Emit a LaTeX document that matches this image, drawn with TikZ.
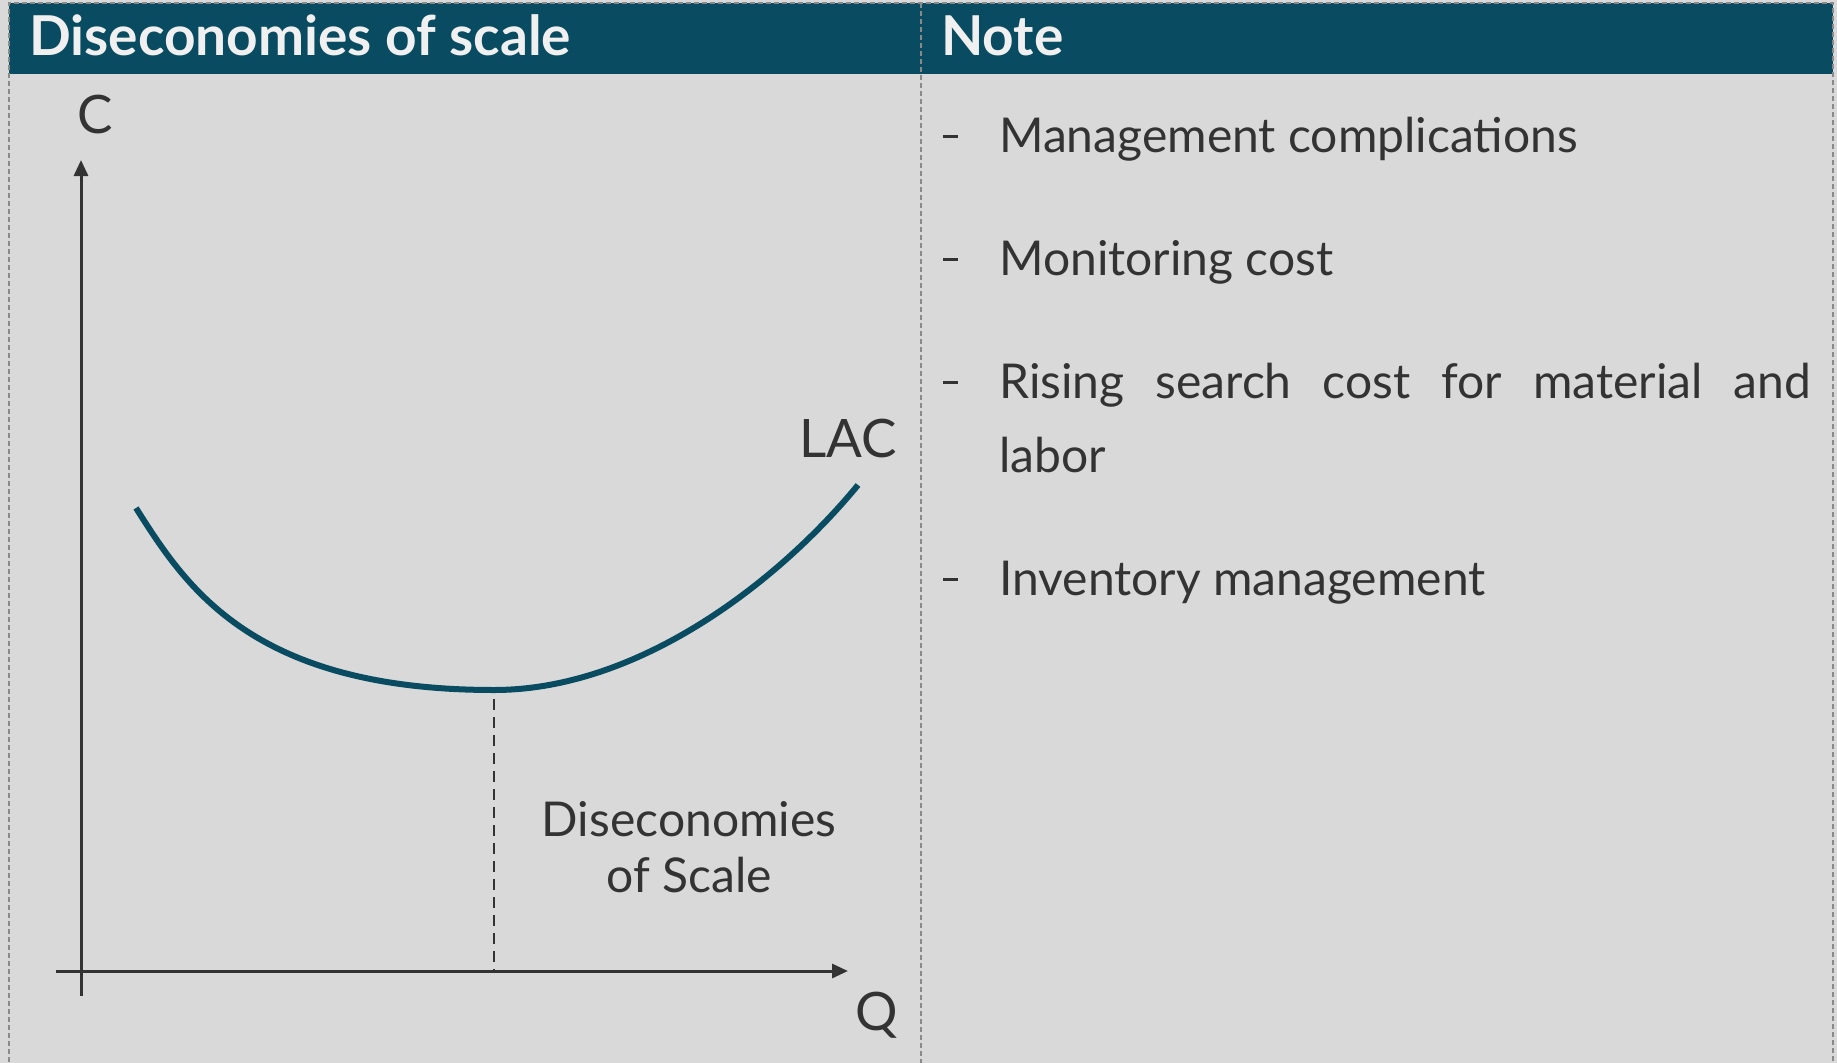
\documentclass[tikz,border=0pt]{standalone}
\usepackage{fontspec}
\setmainfont{Lato}
\usetikzlibrary{arrows.meta}
\definecolor{hdr}{HTML}{094C61}
\definecolor{bg}{HTML}{D9D9D9}
\definecolor{txt}{HTML}{333333}
\definecolor{hdrtxt}{HTML}{F0F0F0}
\definecolor{brd}{HTML}{8A8A8A}
\tikzset{
  hdrtext/.style={text=hdrtxt,font=\bfseries\fontsize{55}{60}\selectfont,anchor=base west,inner sep=0},
  body/.style={text=txt,font=\fontsize{48}{56}\selectfont,anchor=base west,inner sep=0},
  bullet/.style={fill=txt,minimum width=15pt,minimum height=3pt,inner sep=0,anchor=west},
  graphtext/.style={text=txt,font=\fontsize{48}{56}\selectfont,anchor=base,inner sep=0},
  axlabel/.style={text=txt,font=\fontsize{53}{60}\selectfont,anchor=base,inner sep=0},
  axis/.style={draw=txt,line width=3pt,-{Triangle[length=16pt,width=14pt]}},
  lac/.style={draw=hdr,line width=6pt},
  guide/.style={draw=txt,line width=2.6pt,dash pattern=on 11pt off 7pt},
  frame/.style={draw=brd,line width=1.2pt,dash pattern=on 5pt off 3pt}
}
\begin{document}
\begin{tikzpicture}[x=1pt,y=-1pt]
\useasboundingbox (0,0) rectangle (1837,1063);
\fill[bg] (0,0) rectangle (1837,1063);
\fill[hdr] (9,3) rectangle (1833,74);
\draw[frame] (9,1070) -- (9,3) -- (1833,3) -- (1833,1070);
\draw[frame] (921,3) -- (921,1070);
% headers
\node[hdrtext] (h1) at (29,55) {Diseconomies of scale};
\node[hdrtext] (h2) at (941,55) {Note};
% axes
\coordinate (yb) at (81,996);
\coordinate (yt) at (81,160);
\coordinate (xl) at (56,971);
\coordinate (xr) at (848,971);
\draw[axis] (yb) -- (yt);
\draw[axis] (xl) -- (xr);
\node[axlabel] (C) at (95,133) {C};
\node[axlabel] (Q) at (877,1030) {Q};
\node[axlabel] (LAC) at (848,457) {LAC};
% curve
\coordinate (c0) at (136,508);
\coordinate (cm) at (494,690);
\coordinate (c1) at (858,485);
\draw[lac] (c0) .. controls (185,585) and (250,690) .. (cm)
  .. controls (640,690) and (780,580) .. (c1);
\coordinate (db) at (494,971);
\draw[guide] (494,699) -- (db);
\node[graphtext] (d1) at (689,836) {Diseconomies};
\node[graphtext] (d2) at (689,892) {of Scale};
% notes
\node[bullet] (b1) at (943,136) {};
\node[body] (n1) at (999,152) {Management complications};
\node[bullet] (b2) at (943,259) {};
\node[body] (n2) at (999,275) {Monitoring cost};
\node[bullet] (b3) at (943,382) {};
\node[body] (n3) at (999,398) {\makebox[812pt][s]{Rising search cost for material and}};
\node[body] (n3b) at (999,472) {labor};
\node[bullet] (b4) at (943,579) {};
\node[body] (n4) at (999,595) {Inventory management};
\end{tikzpicture}
\end{document}
